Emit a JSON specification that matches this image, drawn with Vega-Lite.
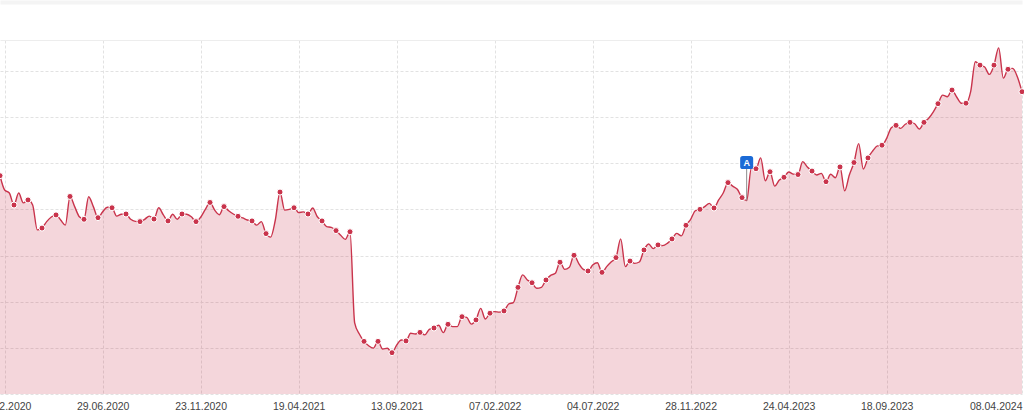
{
  "$schema": "https://vega.github.io/schema/vega-lite/v6.json",
  "width": 1022,
  "height": 354,
  "autosize": {"type": "none"},
  "padding": {"left": 0, "top": 40, "right": 2, "bottom": 24},
  "background": "white",
  "config": {"view": {"stroke": null}, "font": "Liberation Sans"},
  "datasets": {
    "series": [
      {"date":"2020-01-27","value":9.46},{"date":"2020-02-03","value":8.84},{"date":"2020-02-10","value":8.71},{"date":"2020-02-17","value":8.19},{"date":"2020-02-24","value":8.71},
      {"date":"2020-03-02","value":8.28},{"date":"2020-03-09","value":8.41},{"date":"2020-03-16","value":8.19},{"date":"2020-03-23","value":7.11},{"date":"2020-03-30","value":7.19},
      {"date":"2020-04-06","value":7.47},{"date":"2020-04-13","value":7.67},{"date":"2020-04-20","value":7.76},{"date":"2020-04-27","value":7.54},
      {"date":"2020-05-04","value":7.32},{"date":"2020-05-11","value":8.56},{"date":"2020-05-18","value":8.12},{"date":"2020-05-25","value":7.68},
      {"date":"2020-06-01","value":7.57},{"date":"2020-06-08","value":8.55},{"date":"2020-06-15","value":8.12},{"date":"2020-06-22","value":7.64},{"date":"2020-06-29","value":7.90},
      {"date":"2020-07-06","value":8.09},{"date":"2020-07-13","value":8.07},{"date":"2020-07-20","value":7.71},{"date":"2020-07-27","value":7.79},
      {"date":"2020-08-03","value":7.80},{"date":"2020-08-10","value":7.57},{"date":"2020-08-17","value":7.48},{"date":"2020-08-24","value":7.47},{"date":"2020-08-31","value":7.57},
      {"date":"2020-09-07","value":7.71},{"date":"2020-09-14","value":7.58},{"date":"2020-09-21","value":8.07},{"date":"2020-09-28","value":7.76},
      {"date":"2020-10-05","value":7.50},{"date":"2020-10-12","value":7.79},{"date":"2020-10-19","value":7.57},{"date":"2020-10-26","value":7.80},
      {"date":"2020-11-02","value":7.79},{"date":"2020-11-09","value":7.68},{"date":"2020-11-16","value":7.47},{"date":"2020-11-23","value":7.66},{"date":"2020-11-30","value":8.00},
      {"date":"2020-12-07","value":8.30},{"date":"2020-12-14","value":7.97},{"date":"2020-12-21","value":7.77},{"date":"2020-12-28","value":8.12},
      {"date":"2021-01-04","value":7.94},{"date":"2021-01-11","value":7.80},{"date":"2021-01-18","value":7.70},{"date":"2021-01-25","value":7.63},
      {"date":"2021-02-01","value":7.54},{"date":"2021-02-08","value":7.50},{"date":"2021-02-15","value":7.32},{"date":"2021-02-22","value":7.47},
      {"date":"2021-03-01","value":6.95},{"date":"2021-03-08","value":6.80},{"date":"2021-03-15","value":7.54},{"date":"2021-03-22","value":8.75},{"date":"2021-03-29","value":7.97},
      {"date":"2021-04-05","value":8.00},{"date":"2021-04-12","value":8.07},{"date":"2021-04-19","value":7.86},{"date":"2021-04-26","value":7.89},
      {"date":"2021-05-03","value":7.80},{"date":"2021-05-10","value":8.06},{"date":"2021-05-17","value":7.68},{"date":"2021-05-24","value":7.50},{"date":"2021-05-31","value":7.25},
      {"date":"2021-06-07","value":7.22},{"date":"2021-06-14","value":7.08},{"date":"2021-06-21","value":6.88},{"date":"2021-06-28","value":6.70},
      {"date":"2021-07-05","value":7.03},{"date":"2021-07-12","value":3.08},{"date":"2021-07-19","value":2.60},{"date":"2021-07-26","value":2.28},
      {"date":"2021-08-02","value":2.09},{"date":"2021-08-09","value":1.99},{"date":"2021-08-16","value":2.28},{"date":"2021-08-23","value":1.95},{"date":"2021-08-30","value":1.98},
      {"date":"2021-09-06","value":1.79},{"date":"2021-09-13","value":2.12},{"date":"2021-09-20","value":2.34},{"date":"2021-09-27","value":2.30},
      {"date":"2021-10-04","value":2.63},{"date":"2021-10-11","value":2.60},{"date":"2021-10-18","value":2.67},{"date":"2021-10-25","value":2.56},
      {"date":"2021-11-01","value":2.80},{"date":"2021-11-08","value":2.86},{"date":"2021-11-15","value":2.98},{"date":"2021-11-22","value":2.66},{"date":"2021-11-29","value":3.02},
      {"date":"2021-12-06","value":2.92},{"date":"2021-12-13","value":2.92},{"date":"2021-12-20","value":3.35},{"date":"2021-12-27","value":3.32},
      {"date":"2022-01-03","value":3.03},{"date":"2022-01-10","value":3.21},{"date":"2022-01-17","value":3.71},{"date":"2022-01-24","value":3.25},{"date":"2022-01-31","value":3.50},
      {"date":"2022-02-07","value":3.57},{"date":"2022-02-14","value":3.55},{"date":"2022-02-21","value":3.60},{"date":"2022-02-28","value":3.90},
      {"date":"2022-03-07","value":3.96},{"date":"2022-03-14","value":4.62},{"date":"2022-03-21","value":5.16},{"date":"2022-03-28","value":4.94},
      {"date":"2022-04-04","value":4.82},{"date":"2022-04-11","value":4.58},{"date":"2022-04-18","value":4.62},{"date":"2022-04-25","value":4.94},
      {"date":"2022-05-02","value":5.14},{"date":"2022-05-09","value":5.23},{"date":"2022-05-16","value":5.71},{"date":"2022-05-23","value":5.40},{"date":"2022-05-30","value":5.49},
      {"date":"2022-06-06","value":6.01},{"date":"2022-06-13","value":5.66},{"date":"2022-06-20","value":5.40},{"date":"2022-06-27","value":5.33},
      {"date":"2022-07-04","value":5.59},{"date":"2022-07-11","value":5.69},{"date":"2022-07-18","value":5.27},{"date":"2022-07-25","value":5.52},
      {"date":"2022-08-01","value":5.73},{"date":"2022-08-08","value":5.91},{"date":"2022-08-15","value":6.72},{"date":"2022-08-22","value":5.52},{"date":"2022-08-29","value":5.76},
      {"date":"2022-09-05","value":5.66},{"date":"2022-09-12","value":5.72},{"date":"2022-09-19","value":6.24},{"date":"2022-09-26","value":6.50},
      {"date":"2022-10-03","value":6.30},{"date":"2022-10-10","value":6.46},{"date":"2022-10-17","value":6.43},{"date":"2022-10-24","value":6.53},{"date":"2022-10-31","value":6.72},
      {"date":"2022-11-07","value":6.96},{"date":"2022-11-14","value":6.85},{"date":"2022-11-21","value":7.31},{"date":"2022-11-28","value":7.57},
      {"date":"2022-12-05","value":7.94},{"date":"2022-12-12","value":8.00},{"date":"2022-12-19","value":8.12},{"date":"2022-12-26","value":8.26},
      {"date":"2023-01-02","value":8.06},{"date":"2023-01-09","value":8.41},{"date":"2023-01-16","value":8.72},{"date":"2023-01-23","value":9.16},{"date":"2023-01-30","value":9.01},
      {"date":"2023-02-06","value":8.87},{"date":"2023-02-13","value":8.51},{"date":"2023-02-20","value":8.38},{"date":"2023-02-27","value":9.79},
      {"date":"2023-03-06","value":9.76},{"date":"2023-03-13","value":10.23},{"date":"2023-03-20","value":9.24},{"date":"2023-03-27","value":9.63},
      {"date":"2023-04-03","value":9.01},{"date":"2023-04-10","value":9.27},{"date":"2023-04-17","value":9.39},{"date":"2023-04-24","value":9.62},
      {"date":"2023-05-01","value":9.53},{"date":"2023-05-08","value":9.51},{"date":"2023-05-15","value":10.07},{"date":"2023-05-22","value":9.84},{"date":"2023-05-29","value":9.66},
      {"date":"2023-06-05","value":9.49},{"date":"2023-06-12","value":9.56},{"date":"2023-06-19","value":9.20},{"date":"2023-06-26","value":9.52},
      {"date":"2023-07-03","value":9.37},{"date":"2023-07-10","value":9.84},{"date":"2023-07-17","value":8.80},{"date":"2023-07-24","value":9.49},{"date":"2023-07-31","value":10.03},
      {"date":"2023-08-07","value":10.85},{"date":"2023-08-14","value":9.75},{"date":"2023-08-21","value":10.23},{"date":"2023-08-28","value":10.53},
      {"date":"2023-09-04","value":10.75},{"date":"2023-09-11","value":10.78},{"date":"2023-09-18","value":11.08},{"date":"2023-09-25","value":11.54},
      {"date":"2023-10-02","value":11.64},{"date":"2023-10-09","value":11.51},{"date":"2023-10-16","value":11.69},{"date":"2023-10-23","value":11.77},{"date":"2023-10-30","value":11.71},
      {"date":"2023-11-06","value":11.48},{"date":"2023-11-13","value":11.77},{"date":"2023-11-20","value":11.95},{"date":"2023-11-27","value":12.23},
      {"date":"2023-12-04","value":12.58},{"date":"2023-12-11","value":12.95},{"date":"2023-12-18","value":12.88},{"date":"2023-12-25","value":13.17},
      {"date":"2024-01-01","value":12.87},{"date":"2024-01-08","value":12.60},{"date":"2024-01-15","value":12.60},{"date":"2024-01-22","value":13.10},{"date":"2024-01-29","value":14.40},
      {"date":"2024-02-05","value":14.25},{"date":"2024-02-12","value":14.17},{"date":"2024-02-19","value":13.85},{"date":"2024-02-26","value":14.25},
      {"date":"2024-03-04","value":15.00},{"date":"2024-03-11","value":13.69},{"date":"2024-03-18","value":14.07},{"date":"2024-03-25","value":14.11},
      {"date":"2024-04-01","value":13.75},{"date":"2024-04-08","value":13.10}
    ],
    "notes": [{"date":"2023-02-20","value":8.38,"label":"A"}]
  },
  "resolve": {"axis": {"x": "independent"}},
  "layer": [
    {
      "data": {"name": "series"},
      "mark": {"type": "area", "interpolate": "monotone", "color": "#c9344c", "fillOpacity": 0.2},
      "encoding": {
        "x": {
          "field": "date", "type": "temporal",
          "scale": {"type": "utc", "domain": [{"year":2020,"month":1,"date":27,"utc":true},{"year":2024,"month":4,"date":8,"utc":true}]},
          "axis": {
            "orient": "bottom",
            "values": [
              {"year":2020,"month":2,"date":3,"utc":true},{"year":2020,"month":6,"date":29,"utc":true},{"year":2020,"month":11,"date":23,"utc":true},
              {"year":2021,"month":4,"date":19,"utc":true},{"year":2021,"month":9,"date":13,"utc":true},{"year":2022,"month":2,"date":7,"utc":true},
              {"year":2022,"month":7,"date":4,"utc":true},{"year":2022,"month":11,"date":28,"utc":true},{"year":2023,"month":4,"date":24,"utc":true},
              {"year":2023,"month":9,"date":18,"utc":true},{"year":2024,"month":4,"date":8,"utc":true}
            ],
            "format": "%d.%m.%Y",
            "title": null,
            "domain": false,
            "ticks": false,
            "tickSize": 0,
            "labelPadding": 7,
            "labelFont": "Liberation Sans",
            "labelFontSize": 10.5,
            "labelColor": "#444444",
            "labelFlush": true,
            "labelOverlap": false,
            "grid": true,
            "gridColor": "#e2e2e2",
            "gridDash": [3, 2]
          }
        },
        "y": {
          "field": "value", "type": "quantitative",
          "scale": {"domain": [0, 15.34], "nice": false, "zero": true},
          "axis": {
            "values": [0,1,2,3,4,5,6,7,8,9,10,11,12,13,14,15,15.34],
            "title": null,
            "labels": false,
            "ticks": false,
            "domain": false,
            "grid": true,
            "gridColor": {"condition": {"test": "datum.value > 15.2", "value": "#ededed"}, "value": "#e2e2e2"},
            "gridDash": {"condition": {"test": "datum.value > 15.2", "value": []}, "value": [3, 2]}
          }
        }
      }
    },
    {
      "data": {"name": "series"},
      "mark": {"type": "line", "interpolate": "monotone", "color": "#c9344c", "strokeWidth": 1.4},
      "encoding": {
        "x": {"field": "date", "type": "temporal", "axis": null},
        "y": {"field": "value", "type": "quantitative"}
      }
    },
    {
      "data": {"name": "series"},
      "transform": [
        {"window": [{"op": "row_number", "as": "rn"}]},
        {"filter": "(datum.rn - 1) % 3 === 0"}
      ],
      "mark": {"type": "point", "filled": true, "color": "#c9344c", "size": 36, "opacity": 1, "stroke": "white", "strokeWidth": 1},
      "encoding": {
        "x": {"field": "date", "type": "temporal", "axis": null},
        "y": {"field": "value", "type": "quantitative"}
      }
    },
    {
      "data": {"name": "notes"},
      "mark": {"type": "rule", "color": "#8c8c8c", "strokeWidth": 1, "y2Offset": -32},
      "encoding": {
        "x": {"field": "date", "type": "temporal", "axis": null},
        "y": {"field": "value", "type": "quantitative"},
        "y2": {"field": "value"}
      }
    },
    {
      "data": {"name": "notes"},
      "mark": {
        "type": "point", "filled": true, "color": "#1b6ad6", "opacity": 1, "size": 169, "yOffset": -38,
        "shape": "M -1 -0.6 Q -1 -1 -0.6 -1 L 0.6 -1 Q 1 -1 1 -0.6 L 1 0.6 Q 1 1 0.6 1 L -0.6 1 Q -1 1 -1 0.6 Z"
      },
      "encoding": {
        "x": {
          "field": "date", "type": "temporal",
          "axis": {"orient": "top", "labels": false, "ticks": false, "grid": false, "title": null, "domain": true, "domainColor": "#f4f4f4", "domainWidth": 4, "offset": 38}
        },
        "y": {"field": "value", "type": "quantitative"}
      }
    },
    {
      "data": {"name": "notes"},
      "mark": {"type": "text", "color": "white", "fontWeight": "bold", "fontSize": 9, "font": "Liberation Sans", "align": "center", "baseline": "middle", "yOffset": -38},
      "encoding": {
        "x": {"field": "date", "type": "temporal", "axis": null},
        "y": {"field": "value", "type": "quantitative"},
        "text": {"field": "label"}
      }
    }
  ]
}
